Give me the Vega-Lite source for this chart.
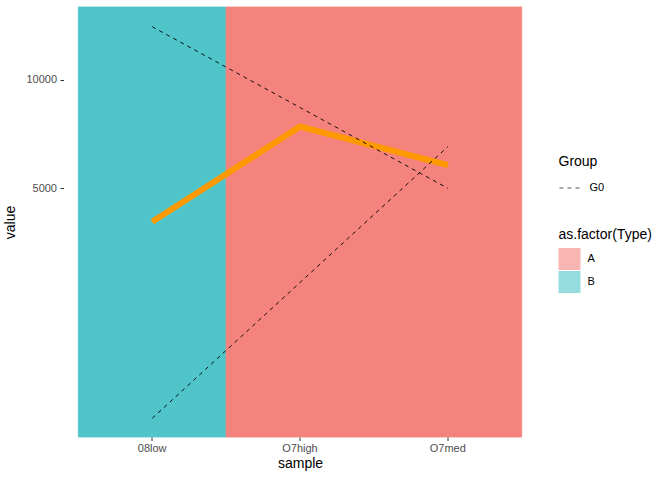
{
  "$schema": "https://vega.github.io/schema/vega-lite/v6.json",
  "autosize": {"type": "none"},
  "width": 473,
  "height": 430,
  "padding": {"left": 63.5, "top": 7, "right": 135.5, "bottom": 43},
  "background": "white",
  "config": {
    "view": {"stroke": null},
    "font": "Liberation Sans",
    "axis": {
      "domain": false,
      "grid": false,
      "tickColor": "#333333",
      "tickSize": 3.5,
      "tickWidth": 1,
      "labelColor": "#4D4D4D",
      "labelFontSize": 11,
      "labelFont": "Liberation Sans",
      "titleFont": "Liberation Sans",
      "titleFontSize": 14,
      "titleFontWeight": "normal",
      "titleColor": "#000000"
    },
    "legend": {
      "titleFont": "Liberation Sans",
      "titleFontSize": 14,
      "titleFontWeight": "normal",
      "titleColor": "#000000",
      "labelFont": "Liberation Sans",
      "labelFontSize": 11,
      "labelColor": "#000000"
    }
  },
  "datasets": {
    "bg": [
      {"sample": "08low", "Type": "B"},
      {"sample": "O7high", "Type": "A"},
      {"sample": "O7med", "Type": "A"}
    ],
    "orange": [
      {"sample": "08low", "value": 3458},
      {"sample": "O7high", "value": 7853},
      {"sample": "O7med", "value": 6070}
    ],
    "dashed": [
      {"sample": "08low", "value": 12460, "Group": "G0", "seg": 1},
      {"sample": "O7med", "value": 5000, "Group": "G0", "seg": 1},
      {"sample": "08low", "value": -5620, "Group": "G0", "seg": 2},
      {"sample": "O7med", "value": 6920, "Group": "G0", "seg": 2}
    ]
  },
  "layer": [
    {
      "data": {"name": "bg"},
      "mark": {"type": "rect", "strokeWidth": 0.8},
      "encoding": {
        "x": {
          "field": "sample", "type": "nominal",
          "scale": {"type": "band", "domain": ["08low", "O7high", "O7med"], "paddingInner": 0, "paddingOuter": 0.1},
          "axis": {"title": "sample", "labelPadding": 2, "titlePadding": 3, "labelAngle": 0}
        },
        "stroke": {
          "field": "Type", "type": "nominal",
          "scale": {"domain": ["A", "B"], "range": ["#F4837D", "#50C5C9"]},
          "legend": null
        },
        "fill": {
          "field": "Type", "type": "nominal",
          "scale": {"domain": ["A", "B"], "range": ["#F4837D", "#50C5C9"]},
          "legend": {
            "title": "as.factor(Type)",
            "orient": "none",
            "legendX": 495,
            "legendY": 221,
            "symbolType": "square",
            "symbolSize": 484,
            "symbolOpacity": 0.6,
            "symbolStrokeWidth": 0,
            "rowPadding": 1,
            "labelOffset": 7,
            "titlePadding": 6
          }
        }
      }
    },
    {
      "data": {"name": "orange"},
      "mark": {"type": "line", "color": "#FF9900", "strokeWidth": 6, "strokeCap": "butt", "strokeJoin": "round"},
      "encoding": {
        "x": {"field": "sample", "type": "nominal"},
        "y": {
          "field": "value", "type": "quantitative",
          "scale": {"domain": [-6482, 13370], "nice": false, "zero": false},
          "axis": {"title": "value", "values": [5000, 10000], "format": "d", "labelPadding": 3.5, "titlePadding": 8}
        }
      }
    },
    {
      "data": {"name": "dashed"},
      "mark": {"type": "line", "color": "#000000", "strokeWidth": 0.9},
      "encoding": {
        "x": {"field": "sample", "type": "nominal"},
        "y": {"field": "value", "type": "quantitative"},
        "detail": {"field": "seg", "type": "nominal"},
        "strokeDash": {
          "field": "Group", "type": "nominal",
          "scale": {"domain": ["G0"], "range": [[4, 4]]},
          "legend": {
            "title": "Group",
            "orient": "none",
            "legendX": 495,
            "legendY": 148,
            "symbolType": "stroke",
            "symbolSize": 400,
            "symbolStrokeColor": "#555555",
            "symbolStrokeWidth": 1.2,
            "labelOffset": 9,
            "titlePadding": 8
          }
        }
      }
    }
  ]
}
